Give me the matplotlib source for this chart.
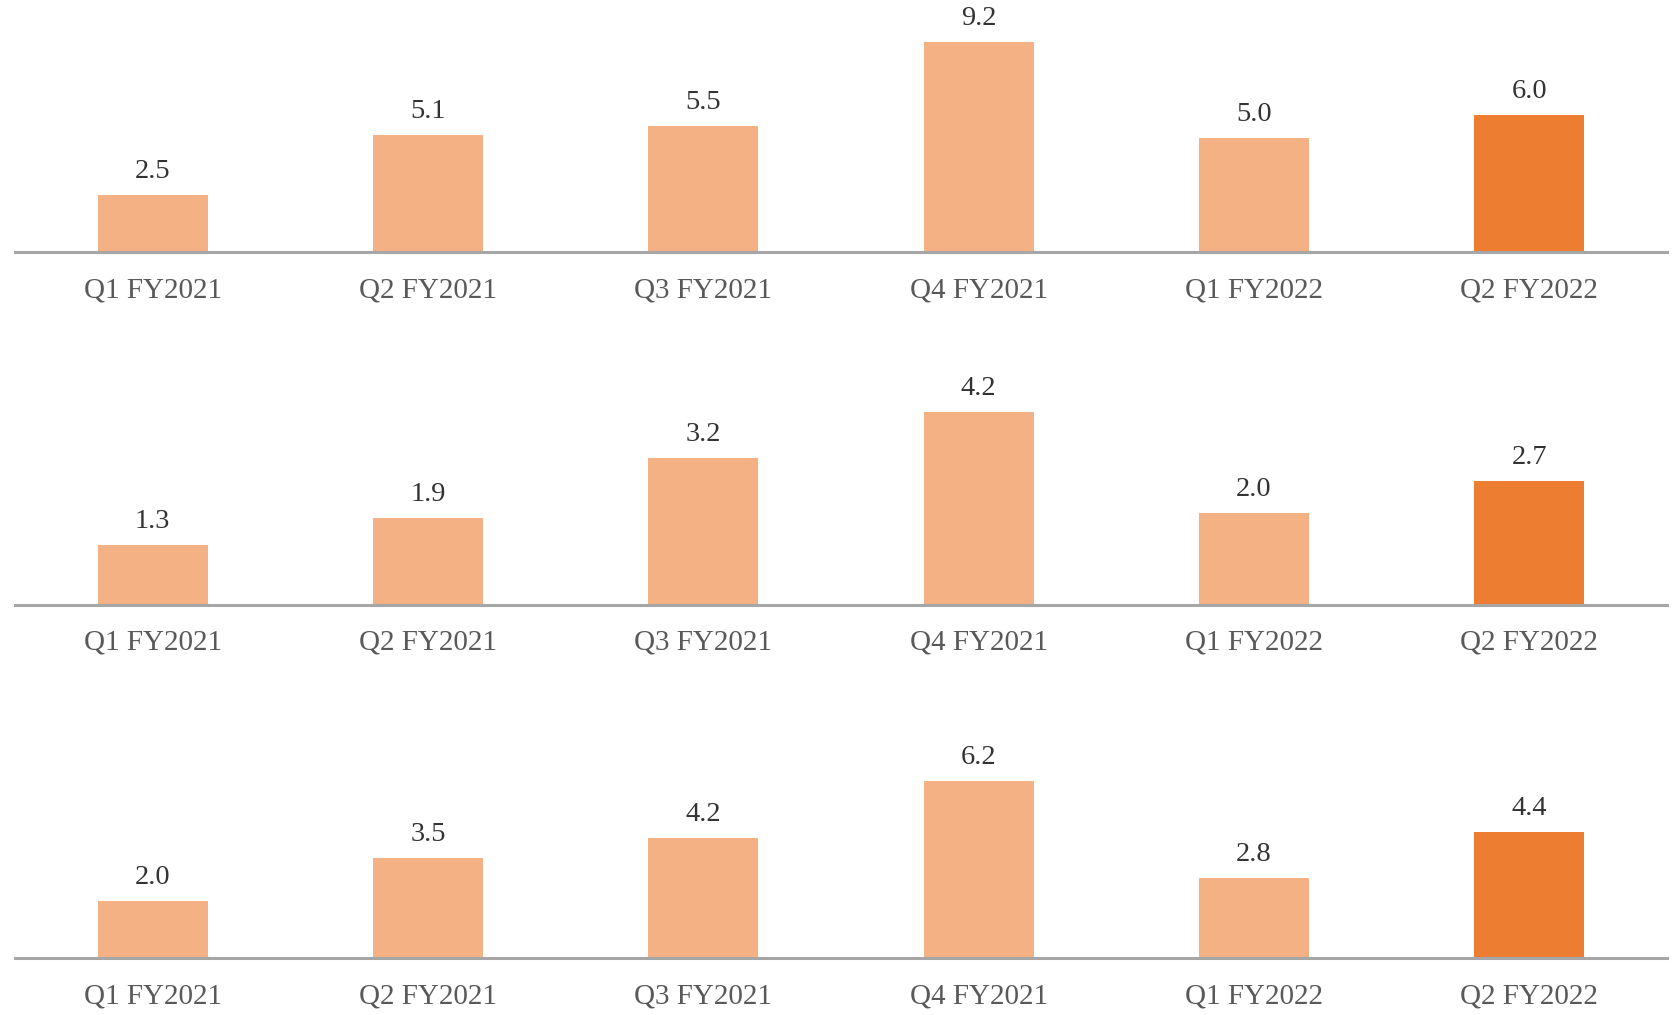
import numpy as np
import matplotlib.pyplot as plt

quarters = ["Q1 FY2021", "Q2 FY2021", "Q3 FY2021", "Q4 FY2021", "Q1 FY2022", "Q2 FY2022"]
panel_top = [2.5, 5.1, 5.5, 9.2, 5.0, 6.0]
panel_mid = [1.3, 1.9, 3.2, 4.2, 2.0, 2.7]
panel_bottom = [2.0, 3.5, 4.2, 6.2, 2.8, 4.4]

light = "#F4B183"
dark = "#ED7D31"
colors = [light] * 5 + [dark]

plt.rcParams["font.family"] = ["Liberation Serif", "DejaVu Serif"]

fig = plt.figure(figsize=(16.73, 10.15), dpi=100)

# (values, bottom fraction, ylim top)
panels = [
    (panel_top, 1 - 252 / 1015, 10.5),
    (panel_mid, 1 - 605 / 1015, 5.22),
    (panel_bottom, 1 - 958 / 1015, 8.4),
]

x = np.arange(len(quarters))
for vals, bottom, ytop in panels:
    ax = fig.add_axes([15 / 1673, bottom, 1652 / 1673, 240 / 1015])
    ax.bar(x, vals, width=0.4, color=colors)
    for xi, v in zip(x, vals):
        ax.annotate(f"{v:.1f}", (xi, v), xytext=(0, 8), textcoords="offset points",
                    ha="center", va="bottom", fontsize=20.5, color="#333333")
    ax.set_xlim(-0.5, len(quarters) - 0.5)
    ax.set_ylim(0, ytop)
    ax.set_xticks(x)
    ax.set_xticklabels(quarters, fontsize=21, color="#595959")
    ax.tick_params(axis="x", length=0, pad=18)
    ax.set_yticks([])
    for s in ["top", "right", "left"]:
        ax.spines[s].set_visible(False)
    ax.spines["bottom"].set_color("#A6A6A6")
    ax.spines["bottom"].set_linewidth(2.2)

fig.savefig("out.png", dpi=100)
